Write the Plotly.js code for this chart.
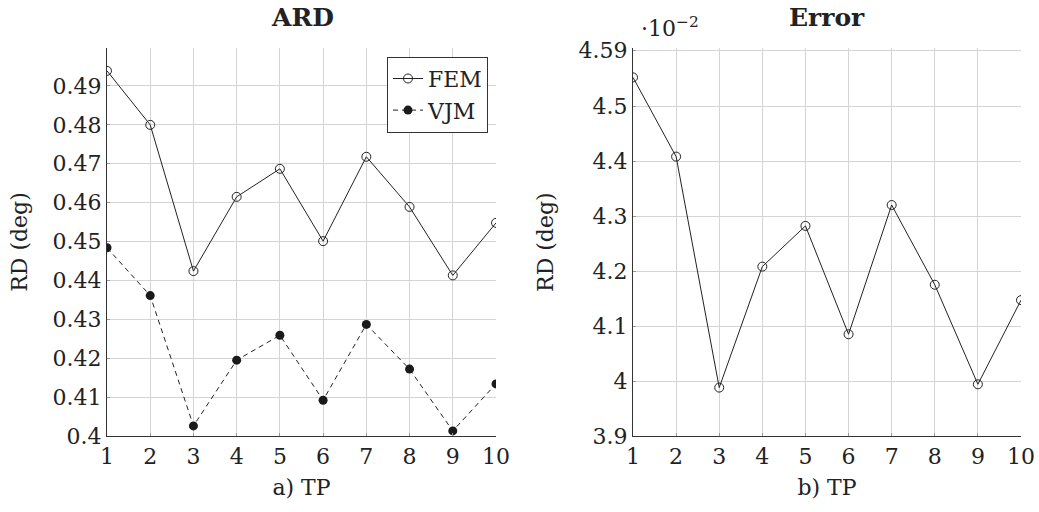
<!DOCTYPE html>
<html>
<head>
<meta charset="utf-8">
<script src="https://cdn.plot.ly/plotly-3.0.1.min.js"></script>
<style>html,body{margin:0;padding:0;background:#fff;}#chart{width:1039px;height:512px;}</style>
</head>
<body>
<div id="chart"></div>
<script>
// Data
const tp = [1, 2, 3, 4, 5, 6, 7, 8, 9, 10];
const femARD = [0.4939, 0.4800, 0.4424, 0.4615, 0.4687, 0.4501, 0.4718, 0.4589, 0.4413, 0.4548];
const vjmARD = [0.4484, 0.4361, 0.4026, 0.4195, 0.4259, 0.4092, 0.4287, 0.4172, 0.4013, 0.4134];
// Error values in units of 10^-2
const errVals = [4.552, 4.408, 3.988, 4.208, 4.282, 4.085, 4.320, 4.175, 3.994, 4.147];
const leftYTicks = [0.40, 0.41, 0.42, 0.43, 0.44, 0.45, 0.46, 0.47, 0.48, 0.49];
const leftYTickText = ['0.4', '0.41', '0.42', '0.43', '0.44', '0.45', '0.46', '0.47', '0.48', '0.49'];
const rightYTicks = [3.9, 4.0, 4.1, 4.2, 4.3, 4.4, 4.5, 4.6005];
const rightYTickText = ['3.9', '4', '4.1', '4.2', '4.3', '4.4', '4.5', '4.59'];
const xTickText = ['1', '2', '3', '4', '5', '6', '7', '8', '9', '10'];

const W = 1039, H = 512;
const FONT = 'DejaVu Serif';
const px = v => v / W;
const py = v => 1 - v / H;

const traces = [
  {x: tp, y: femARD, name: 'FEM', mode: 'lines+markers', xaxis: 'x', yaxis: 'y',
   line: {color: '#222', width: 1},
   marker: {symbol: 'circle-open', size: 9, color: '#222', line: {width: 1, color: '#222'}}},
  {x: tp, y: vjmARD, name: 'VJM', mode: 'lines+markers', xaxis: 'x', yaxis: 'y',
   line: {color: '#222', width: 1, dash: '5px,4px'},
   marker: {symbol: 'circle', size: 9, color: '#1a1a1a'}},
  {x: tp, y: errVals, name: 'Error', mode: 'lines+markers', xaxis: 'x2', yaxis: 'y2', showlegend: false,
   line: {color: '#222', width: 1},
   marker: {symbol: 'circle-open', size: 9, color: '#222', line: {width: 1, color: '#222'}}}
];

function axBase() {
  return {
    showgrid: true, gridcolor: '#d4d4d4', gridwidth: 1,
    showline: true, linecolor: '#333', linewidth: 1.2,
    zeroline: false, ticks: 'inside', ticklen: 3, tickcolor: '#999',
    tickfont: {family: FONT, size: 22, color: '#222'},
    automargin: false
  };
}
const titleFont = {family: FONT, size: 22, color: '#222'};

const layout = {
  width: W, height: H,
  margin: {l: 0, r: 0, t: 0, b: 0},
  paper_bgcolor: '#fff', plot_bgcolor: '#fff',
  font: {family: FONT, color: '#222'},
  showlegend: true,
  legend: {
    x: px(488), y: py(56.7), xanchor: 'right', yanchor: 'top',
    bordercolor: '#333', borderwidth: 1, bgcolor: '#fff',
    font: {family: FONT, size: 22, color: '#222'},
    tracegroupgap: 0, itemwidth: 30
  },
  xaxis: Object.assign(axBase(), {
    domain: [px(107), px(496)], range: [1, 10], anchor: 'y',
    tickvals: tp, ticktext: xTickText,
    title: {text: 'a) TP', font: titleFont, standoff: 12}
  }),
  yaxis: Object.assign(axBase(), {
    domain: [py(436), py(48)], range: [0.4, 0.49977], anchor: 'x',
    tickvals: leftYTicks, ticktext: leftYTickText,
    title: {text: 'RD (deg)', font: titleFont, standoff: 18}
  }),
  xaxis2: Object.assign(axBase(), {
    domain: [px(633), px(1021)], range: [1, 10], anchor: 'y2',
    tickvals: tp, ticktext: xTickText,
    title: {text: 'b) TP', font: titleFont, standoff: 12}
  }),
  yaxis2: Object.assign(axBase(), {
    domain: [py(436), py(48.3)], range: [3.9, 4.6049], anchor: 'x2',
    tickvals: rightYTicks, ticktext: rightYTickText,
    title: {text: 'RD (deg)', font: titleFont, standoff: 18}
  }),
  annotations: [
    {text: '<b>ARD</b>', xref: 'paper', yref: 'paper', x: px(302), y: py(17), xanchor: 'center', yanchor: 'middle',
     showarrow: false, font: {family: FONT, size: 25, color: '#222'}},
    {text: '<b>Error</b>', xref: 'paper', yref: 'paper', x: px(827), y: py(17), xanchor: 'center', yanchor: 'middle',
     showarrow: false, font: {family: FONT, size: 25, color: '#222'}},
    {text: '·10<sup>−2</sup>', xref: 'paper', yref: 'paper', x: px(639), y: py(27), xanchor: 'left', yanchor: 'middle',
     showarrow: false, font: {family: FONT, size: 22, color: '#222'}}
  ]
};

Plotly.newPlot('chart', traces, layout, {displayModeBar: false, staticPlot: true});
</script>
</body>
</html>
